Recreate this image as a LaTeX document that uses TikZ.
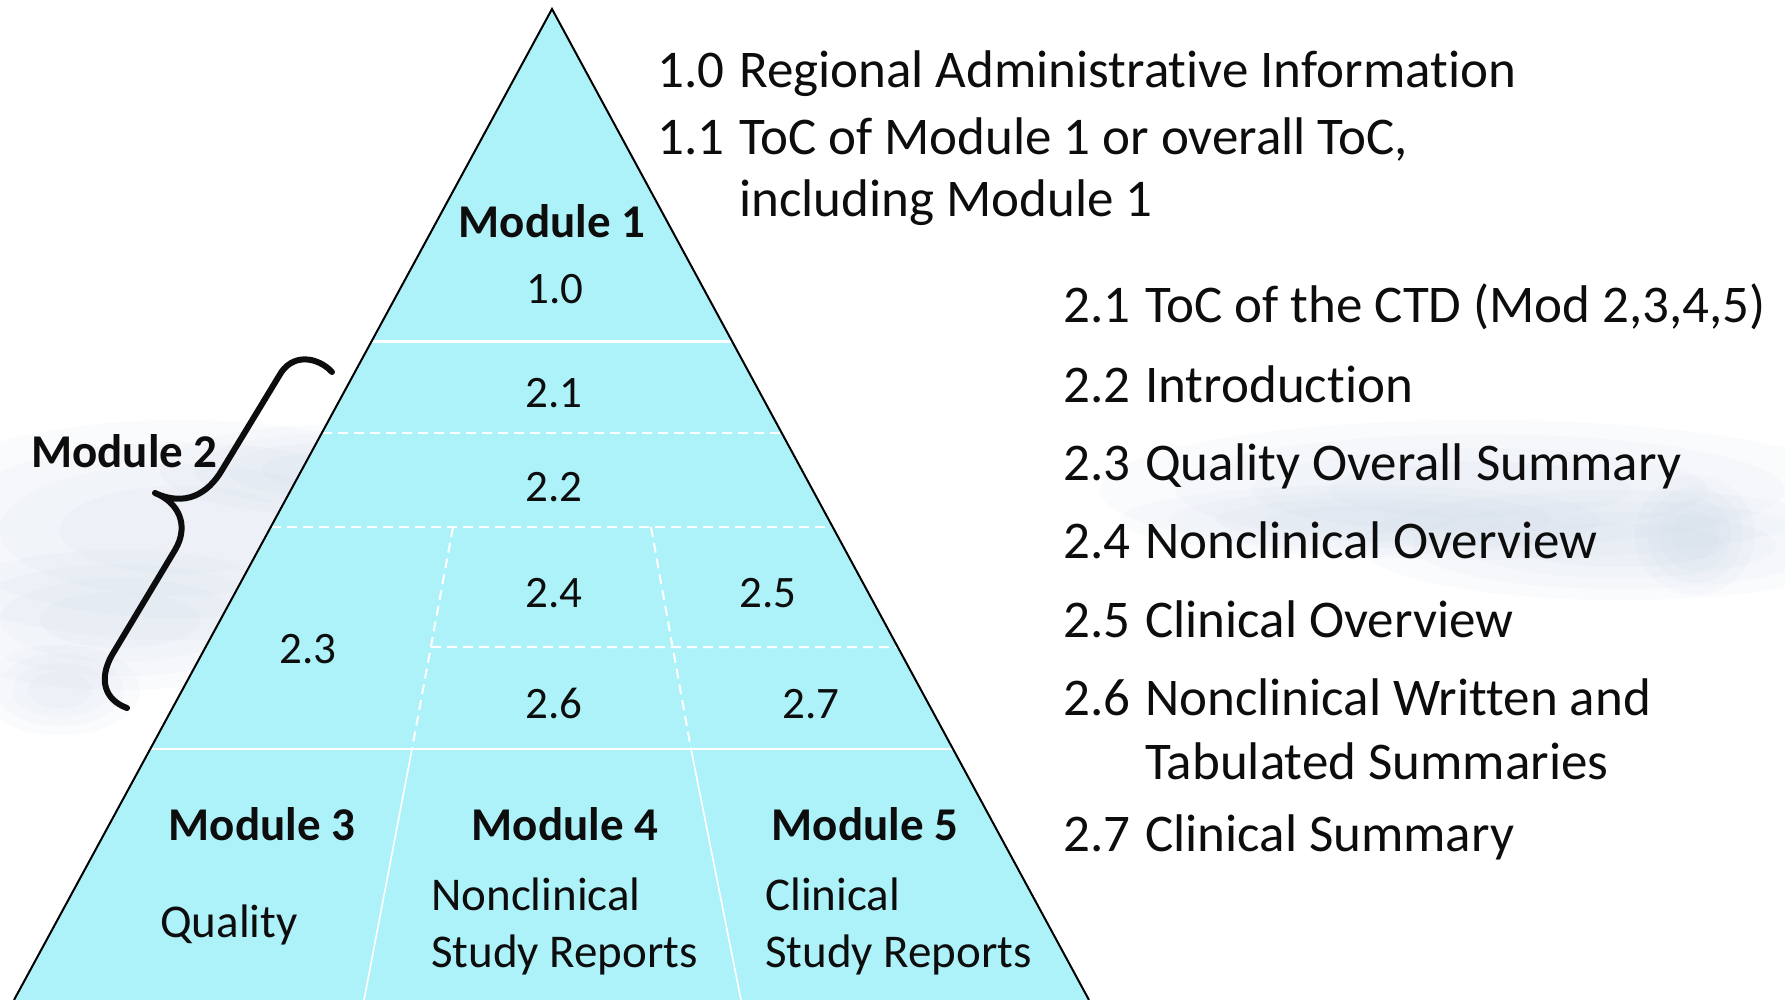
\documentclass[tikz,border=0pt]{standalone}
\usepackage{fontspec}
\setmainfont{Carlito}[Ligatures=NoCommon]
\usetikzlibrary{calc}
\definecolor{pyr}{RGB}{174,242,249}
\definecolor{ink}{RGB}{13,13,13}
\definecolor{splash}{RGB}{180,198,222}
\newcommand\softblob[4]{%
  \foreach \s in {1,0.8,0.6,0.4} {\fill[splash, opacity=0.06] (#1,#2) ellipse [x radius={#3*\s}, y radius={#4*\s}];}}
\begin{document}
\begin{tikzpicture}[x=1pt,y=-1pt,
  num/.style={font=\fontsize{45}{54}\selectfont, text=ink, anchor=base, inner sep=0},
  modlbl/.style={font=\bfseries\fontsize{47}{56}\selectfont, text=ink, anchor=base, inner sep=0},
  desc/.style={font=\fontsize{47}{56}\selectfont, text=ink, anchor=base west, inner sep=0},
  listtxt/.style={font=\fontsize{53}{64}\selectfont, text=ink, anchor=base west, inner sep=0},
  solidw/.style={white, line width=2.5pt},
  dashw/.style={white, line width=2pt, dash pattern=on 10pt off 6pt},
  pyredge/.style={black, line width=2pt},
  bracestyle/.style={ink, line width=6pt, line cap=round, line join=round},
]
\useasboundingbox (0,0) rectangle (1785,1000);
\fill[white] (0,0) rectangle (1785,1000);
% faint water background
\begin{scope}
\clip (0,0) rectangle (1785,1000);
\softblob{180}{530}{300}{110}
\softblob{120}{620}{200}{70}
\softblob{330}{470}{170}{45}
\softblob{60}{690}{80}{45}
\softblob{1480}{490}{380}{70}
\softblob{1620}{545}{260}{55}
\softblob{1695}{535}{60}{60}
\softblob{1360}{520}{240}{35}
\end{scope}
% pyramid geometry
\coordinate (apex) at (552,9);
\coordinate (bl) at (14,1000);
\coordinate (br) at (1089,1000);
\fill[pyr] (apex) -- (bl) -- (br) -- cycle;
% horizontal dividers
\coordinate (l1) at ($(apex)!0.3355!(bl)$); \coordinate (r1) at ($(apex)!0.3355!(br)$);
\coordinate (l2) at ($(apex)!0.4279!(bl)$); \coordinate (r2) at ($(apex)!0.4279!(br)$);
\coordinate (l3) at ($(apex)!0.5227!(bl)$); \coordinate (r3) at ($(apex)!0.5227!(br)$);
\coordinate (r4) at ($(apex)!0.6438!(br)$);
\coordinate (l5) at ($(apex)!0.7467!(bl)$); \coordinate (r5) at ($(apex)!0.7467!(br)$);
% vertical dividers
\coordinate (va1) at (453,527); \coordinate (va2) at (412,749); \coordinate (va3) at (364,1000);
\coordinate (vb1) at (651,527); \coordinate (vb2) at (691,749); \coordinate (vb3) at (741,1000);
\coordinate (va4) at ($(va1)!0.5405!(va2)$);
\draw[solidw] (l1) -- (r1);
\draw[dashw] (l2) -- (r2);
\draw[dashw] (l3) -- (r3);
\draw[dashw] (va4) -- (r4);
\draw[solidw] (l5) -- (r5);
\draw[dashw] (va1) -- (va2);
\draw[dashw] (vb1) -- (vb2);
\draw[solidw, line width=1.6pt] (va2) -- (va3);
\draw[solidw, line width=1.6pt] (vb2) -- (vb3);
\draw[pyredge] (bl) -- (apex) -- (br);
% pyramid labels
\node[modlbl] (m1) at (552,238) {Module 1};
\node[num] (n10) at (555,303) {1.0};
\node[num] (n21) at (554,407) {2.1};
\node[num] (n22) at (554,501) {2.2};
\node[num] (n23) at (308,663) {2.3};
\node[num] (n24) at (554,607) {2.4};
\node[num] (n25) at (768,607) {2.5};
\node[num] (n26) at (554,718) {2.6};
\node[num] (n27) at (811,718) {2.7};
\node[modlbl] (m3) at (262,840) {Module 3};
\node[modlbl] (m4) at (565,840) {Module 4};
\node[modlbl] (m5) at (865,840) {Module 5};
\node[desc] (q3) at (160,937) {Quality};
\node[desc] (q4a) at (431,910) {Nonclinical};
\node[desc] (q4b) at (431,967) {Study Reports};
\node[desc] (q5a) at (765,910) {Clinical};
\node[desc] (q5b) at (765,967) {Study Reports};
% brace and Module 2
\node[modlbl, anchor=base west] (m2) at (31,467) {Module 2};
\draw[bracestyle] (332,372) .. controls (318,357) and (292,352) .. (279,376)
  -- (222,470) .. controls (208,494) and (185,507) .. (155,493)
  .. controls (178,502) and (190,525) .. (175,550)
  -- (112,655) .. controls (98,680) and (105,700) .. (127,708);
% top list
\node[listtxt] (t10n) at (657,88) {1.0};
\node[listtxt] (t10) at (739,88) {Regional Administrative Information};
\node[listtxt] (t11n) at (657,155) {1.1};
\node[listtxt] (t11) at (739,155) {ToC of Module 1 or overall ToC,};
\node[listtxt] (t11b) at (739,217) {including Module 1};
% right list
\node[listtxt] (s21n) at (1063,323) {2.1};
\node[listtxt] (s21) at (1145,323) {ToC of the CTD (Mod 2,3,4,5)};
\node[listtxt] (s22n) at (1063,402) {2.2};
\node[listtxt] (s22) at (1145,402) {Introduction};
\node[listtxt] (s23n) at (1063,480) {2.3};
\node[listtxt] (s23) at (1145,480) {Quality Overall Summary};
\node[listtxt] (s24n) at (1063,558) {2.4};
\node[listtxt] (s24) at (1145,558) {Nonclinical Overview};
\node[listtxt] (s25n) at (1063,637) {2.5};
\node[listtxt] (s25) at (1145,637) {Clinical Overview};
\node[listtxt] (s26n) at (1063,715) {2.6};
\node[listtxt] (s26) at (1145,715) {Nonclinical Written and};
\node[listtxt] (s26b) at (1145,779) {Tabulated Summaries};
\node[listtxt] (s27n) at (1063,851) {2.7};
\node[listtxt] (s27) at (1145,851) {Clinical Summary};
\end{tikzpicture}
\end{document}
